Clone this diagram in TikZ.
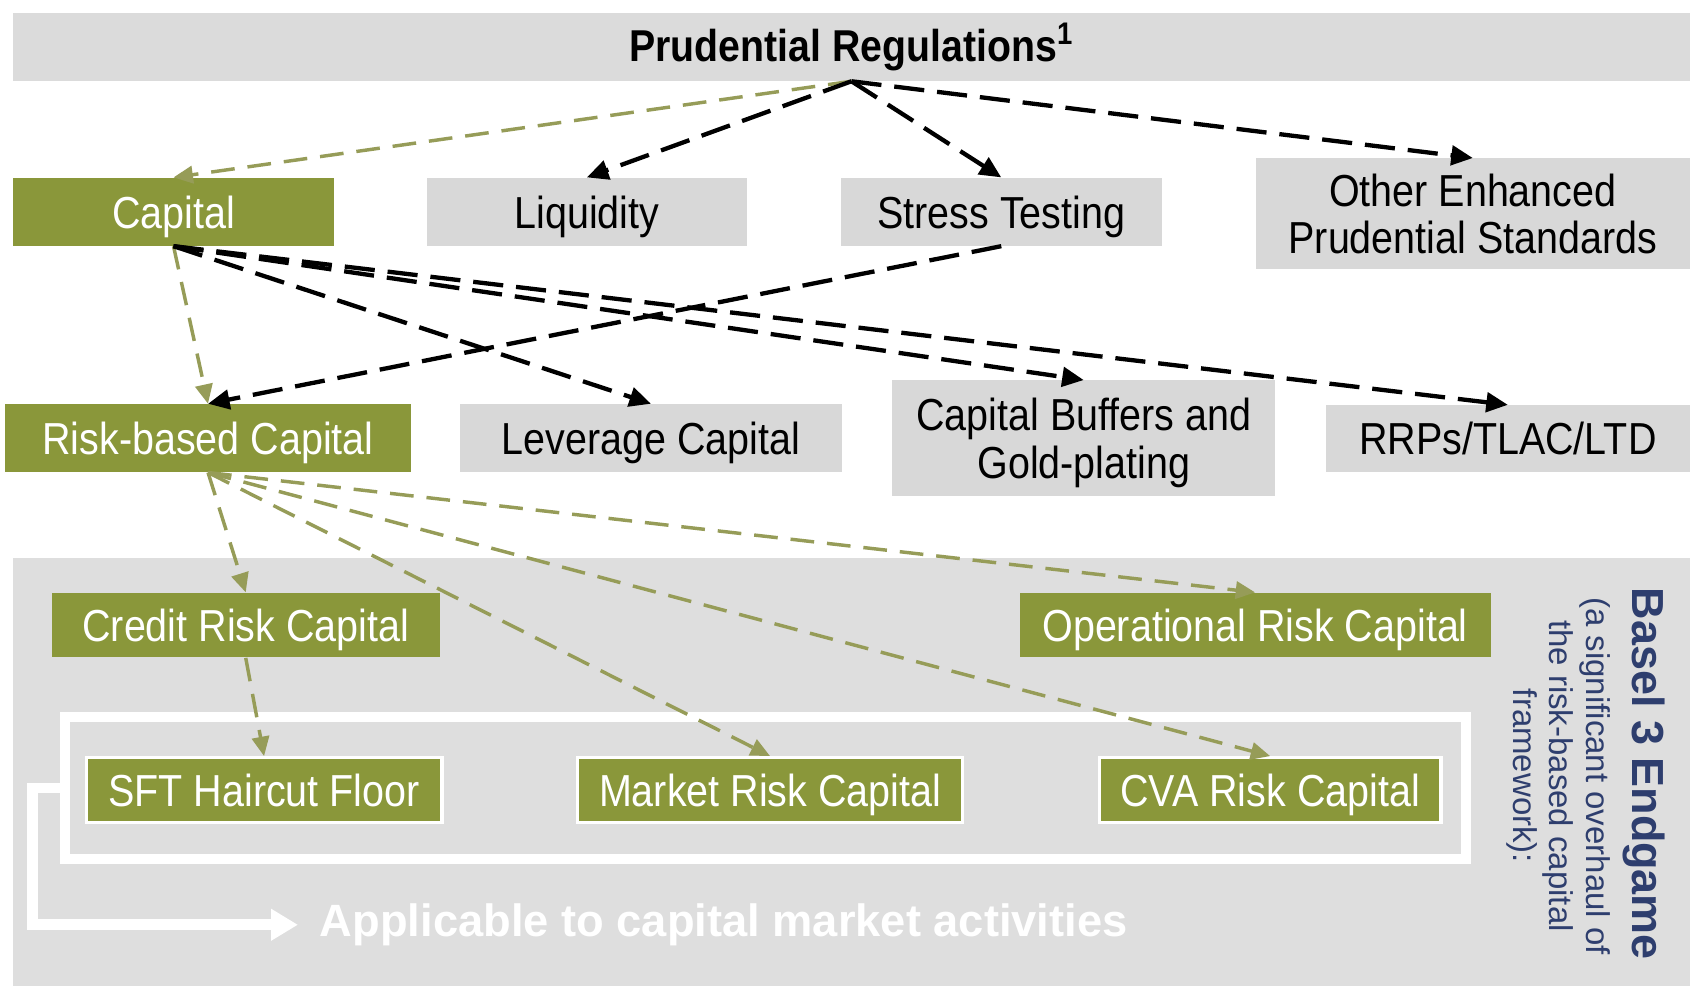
\documentclass[tikz,border=0pt]{standalone}
\usepackage{fontspec}
\setmainfont{Liberation Sans}
\newfontfamily\condfont{Liberation Sans}[FakeStretch=0.88]
\usetikzlibrary{arrows.meta,calc}
\definecolor{olivebox}{RGB}{138,151,58}
\definecolor{olivearrow}{RGB}{150,156,88}
\definecolor{boxgray}{RGB}{216,216,216}
\definecolor{bandgray}{RGB}{219,219,219}
\definecolor{areagray}{RGB}{222,222,222}
\definecolor{navytext}{RGB}{46,62,110}
\begin{document}
\begin{tikzpicture}[x=0.5pt,y=-0.5pt,
  boxfont/.style={font=\condfont\fontsize{20.8}{22}\selectfont},
  graybox/.style={fill=boxgray, inner sep=0pt, text depth=0pt, align=center, boxfont, text=black},
  greenbox/.style={fill=olivebox, inner sep=0pt, text depth=0pt, align=center, boxfont, text=white},
  subbox/.style={greenbox, draw=white, line width=1.5pt},
  blackarrow/.style={draw=black, line width=2pt, dash pattern=on 14pt off 6pt, -{Triangle[length=10pt,width=9pt]}},
  olivearr/.style={draw=olivearrow, line width=1.6pt, dash pattern=on 11pt off 6pt, -{Triangle[length=9pt,width=8pt]}},
]
\useasboundingbox (0,0) rectangle (1568,916);
\fill[white] (0,0) rectangle (1568,916);

% top band
\node[fill=bandgray, minimum width=778pt, minimum height=31.5pt, inner sep=0pt,
      font=\condfont\bfseries\fontsize{20.7}{22}\selectfont] (prud) at (790,43.5)
      {Prudential Regulations\textsuperscript{1}};

% bottom area
\fill[areagray] (12,518) rectangle (1568,915);

% first row
\node[greenbox, minimum width=149pt, minimum height=31.5pt] (cap) at (161,196.5) {Capital};
\node[graybox, minimum width=148.5pt, minimum height=31.5pt] (liq) at (544.5,196.5) {Liquidity};
\node[graybox, minimum width=149pt, minimum height=31.5pt] (stress) at (929,196.5) {Stress Testing};
\node[graybox, minimum width=201.5pt, minimum height=51.5pt] (oth) at (1366.5,198.5) {Other Enhanced\\Prudential Standards};

% second row
\node[greenbox, minimum width=188pt, minimum height=31.5pt] (rbc) at (193,406.5) {Risk-based Capital};
\node[graybox, minimum width=177pt, minimum height=31.5pt] (lev) at (604,406.5) {Leverage Capital};
\node[graybox, minimum width=177.5pt, minimum height=53.5pt] (buf) at (1005.5,406.5) {Capital Buffers and\\Gold-plating};
\node[graybox, minimum width=169pt, minimum height=31pt] (rrp) at (1399,407) {RRPs/TLAC/LTD};

% Basel 3 area
\node[greenbox, minimum width=180pt, minimum height=30pt] (credit) at (228,580) {Credit Risk Capital};
\node[greenbox, minimum width=218.5pt, minimum height=30pt] (oper) at (1164.5,580) {Operational Risk Capital};

\node[draw=white, line width=4.5pt, minimum width=650pt, minimum height=66pt, inner sep=0pt] (frame) at (710,731) {};

\node[subbox, minimum width=165pt, minimum height=30pt] (sft) at (245,733) {SFT Haircut Floor};
\node[subbox, minimum width=178.5pt, minimum height=30pt] (mkt) at (714.5,733) {Market Risk Capital};
\node[subbox, minimum width=158.5pt, minimum height=30pt] (cva) at (1178.5,733) {CVA Risk Capital};

\node[text=white, inner xsep=10pt, inner ysep=2pt, font=\bfseries\fontsize{21}{24}\selectfont] (app) at (671.5,858)
  {Applicable to capital market activities};
\draw[white, line width=5pt, -{Triangle[length=12.5pt,width=14pt]}] (frame.west) -- (30,731) |- (app.west);

\node[rotate=-90, text=navytext, font=\bfseries\fontsize{20.85}{24}\selectfont] (basel) at (1525,718) {Basel 3 Endgame};
\node[rotate=-90, text=navytext, align=center, inner sep=0pt, font=\fontsize{15.3}{17}\selectfont] (baselsub) at (1446,720)
  {(a significant overhaul of\\the risk-based capital\\framework):};

% arrows from Prudential Regulations
\draw[olivearr] (prud.south) -- (cap.north);
\draw[blackarrow] (prud.south) -- (liq.north);
\draw[blackarrow] (prud.south) -- (stress.north);
\draw[blackarrow] (prud.south) -- (oth.north);

% arrows from Capital
\draw[olivearr] (cap.south) -- (rbc.north);
\draw[blackarrow] (cap.south) -- (lev.north);
\draw[blackarrow] (cap.south) -- (buf.north);
\draw[blackarrow] (cap.south) -- (rrp.north);
\draw[blackarrow] (stress.south) -- (rbc.north);

% arrows from Risk-based Capital
\draw[olivearr] (rbc.south) -- (credit.north);
\draw[olivearr] (rbc.south) -- (mkt.north);
\draw[olivearr] (rbc.south) -- (cva.north);
\draw[olivearr] (rbc.south) -- (oper.north);
\draw[olivearr] (credit.south) -- (sft.north);
\end{tikzpicture}
\end{document}
